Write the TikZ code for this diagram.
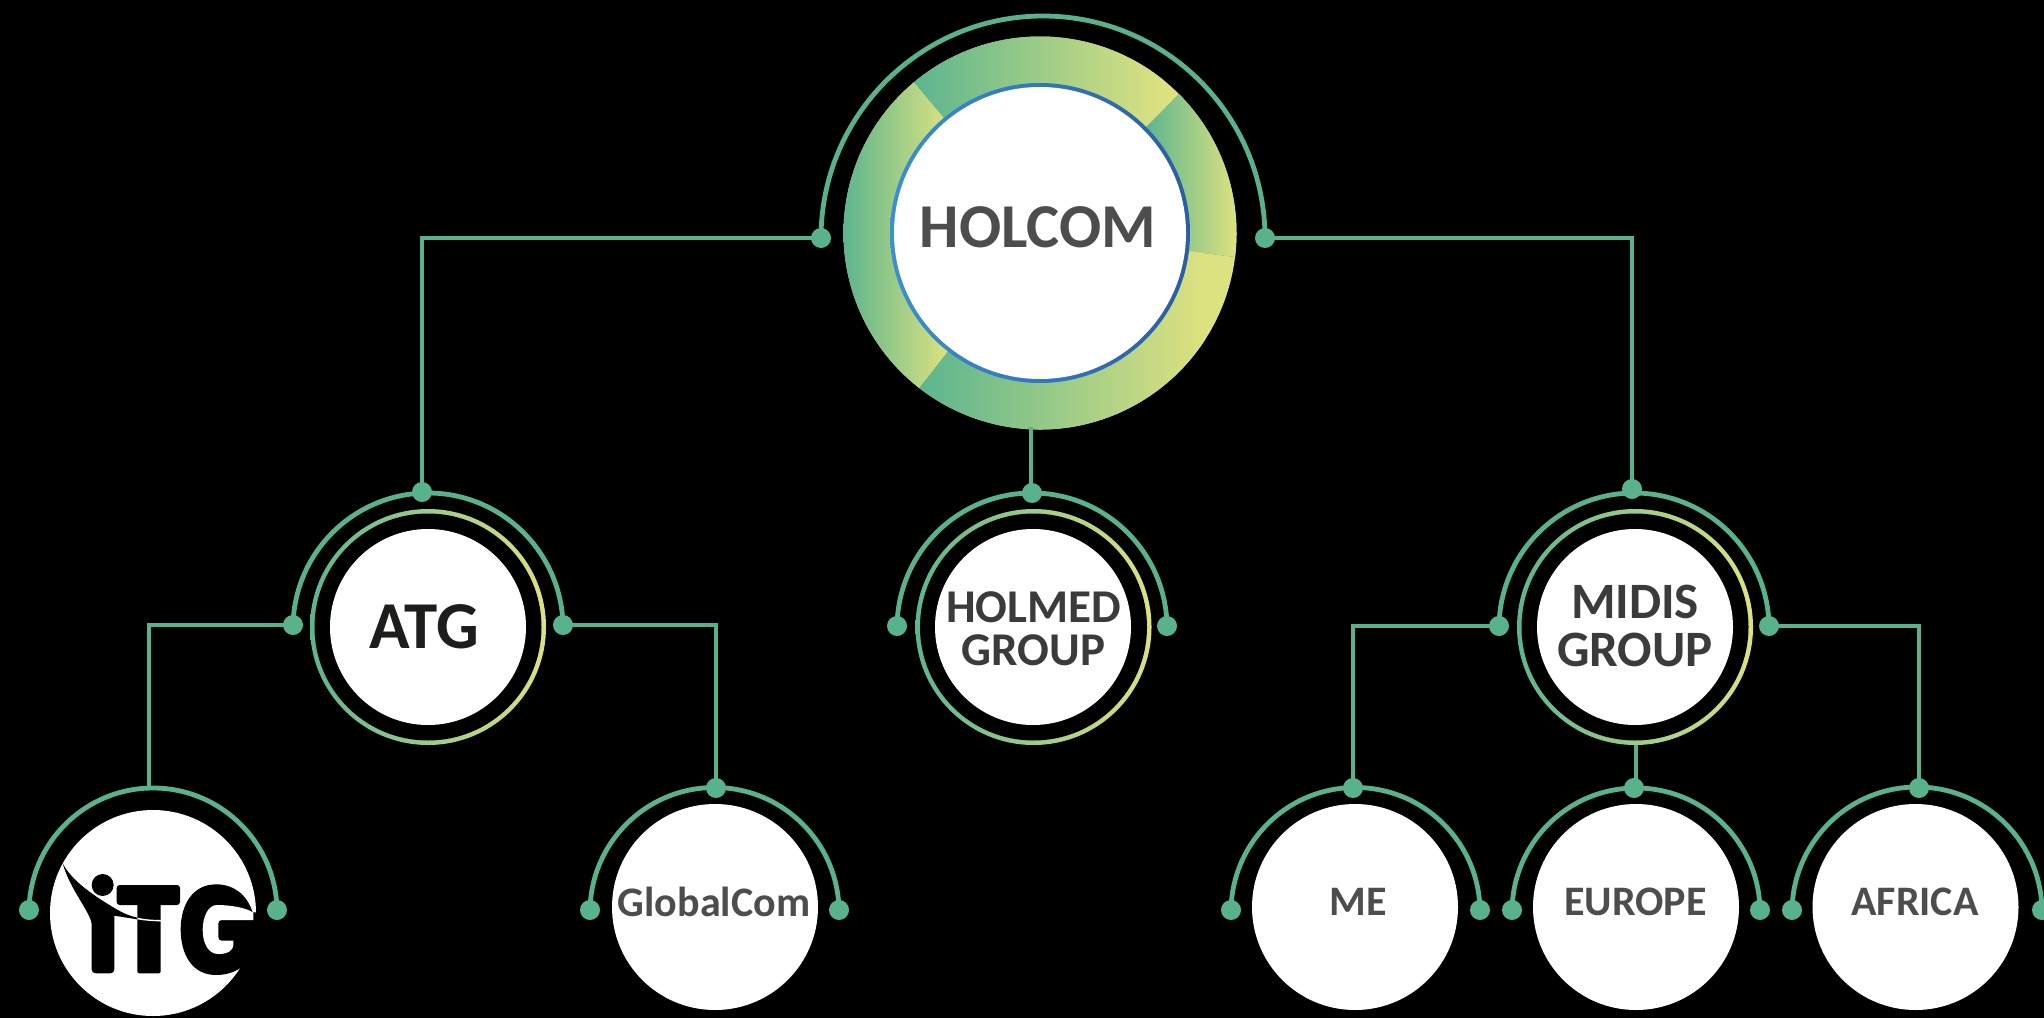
\documentclass[tikz,border=0pt]{standalone}
\usepackage{fontspec}
\setmainfont{Carlito}
\definecolor{lineg}{HTML}{58B38D}
\definecolor{gstart}{HTML}{5CB58F}
\definecolor{gend}{HTML}{DDE280}
\definecolor{txtd}{HTML}{3B3B3B}
\definecolor{txtm}{HTML}{4D4D4D}
\definecolor{txtk}{HTML}{1D1D1B}
\definecolor{blueA}{HTML}{3C8FD0}
\definecolor{blueB}{HTML}{2B5DA5}
\tikzset{
  conn/.style={draw=lineg,line width=2.2pt},
  arcline/.style={draw=lineg,line width=2.4pt},
  dotn/.style={circle,fill=lineg,inner sep=0pt,minimum size=10pt},
  discn/.style={circle,fill=white,inner sep=0pt,minimum size=#1},
  grad/.style={left color=gstart,right color=gend},
  lab/.style={font=\bfseries,align=center,inner sep=0pt},
  labh/.style={lab,text=txtm,font=\fontsize{31.2}{32}\bfseries},
  labk/.style={lab,text=txtk,font=\fontsize{33.5}{34}\bfseries},
  labg/.style={lab,text=txtd,font=\fontsize{23.5}{21.5}\bfseries},
  labm/.style={lab,text=txtd,font=\fontsize{25.5}{24}\bfseries},
  labs/.style={lab,text=txtm,font=\fontsize{21}{22}\bfseries},
}
\newcommand{\segment}[4]{% start angle, end angle, shade x1, shade x2 (relative to centre)
  \begin{scope}
    \clip (0,0) -- (#1:196.5) arc[start angle=#1,end angle=#2,radius=196.5] -- cycle;
    \fill[gend] (-200,-200) rectangle (200,200);
    \shade[grad] (#3,-200) rectangle (#4,200);
  \end{scope}}
\begin{document}
\begin{tikzpicture}[x=0.5pt,y=-0.5pt]
  \useasboundingbox (0,0) rectangle (2044,1017);
  \fill[black] (-10,-10) rectangle (2054,1027);

  % HOLCOM ring
  \begin{scope}[shift={(1040,233)}]
    \segment{-130}{-45}{-127}{125}
    \segment{-45}{7}{105}{197}
    \segment{7}{128}{-120}{165}
    \segment{128}{230}{-197}{-92}
    \shade[left color=blueA,right color=blueB] (0,0) circle[radius=150];
  \end{scope}
  \node[discn=146pt] (holcom) at (1040,233) {};
  \node[labh] (holcomt) at (1038,227) {HOLCOM};
  \coordinate (holbot) at (1031,427);

  % gradient rings of the second row
  \shade[grad] (428,627) circle[radius=118];
  \fill[black] (428,627) circle[radius=113.5];
  \shade[grad] (1033.5,627) circle[radius=118];
  \fill[black] (1033.5,627) circle[radius=113.5];
  \shade[grad] (1635,627) circle[radius=118];
  \fill[black] (1635,627) circle[radius=113.5];
  \coordinate (midbot) at (1636,745);

  % discs
  \node[discn=98pt] (atg) at (428,627) {};
  \node[discn=98pt] (holmed) at (1033,627) {};
  \node[discn=98pt] (midis) at (1635,627) {};
  \node[discn=103pt] (itg) at (153,913) {};
  \node[discn=103pt] (global) at (715,907) {};
  \node[discn=103pt] (me) at (1355,907) {};
  \node[discn=103pt] (europe) at (1636,907) {};
  \node[discn=103pt] (africa) at (1915.5,907) {};

  % ITG logo (drawn in the zoom coordinates of the logo)
  \begin{scope}[shift={(50,850)},x=0.16667pt,y=-0.16667pt]
    \fill[black] (158,105) circle[radius=33];
    \fill[black] (38,40) .. controls (62,85) and (110,125) .. (200,178)
      .. controls (220,190) and (240,198) .. (262,203) -- (262,208) -- (193,197)
      -- (193,358) .. controls (193,366) and (188,370) .. (180,370) -- (138,370)
      .. controls (130,370) and (125,366) .. (125,358) -- (125,225)
      .. controls (125,190) and (60,120) .. (38,40) -- cycle;
    \fill[black,rounded corners=1.5pt] (200,105) rectangle (390,165);
    \fill[black,rounded corners=1pt] (262,150) -- (332,150) -- (332,370) -- (262,370) -- cycle;
    \fill[white] (262,203) .. controls (285,208) and (310,210) .. (333,210) -- (333,214)
      .. controls (310,214) and (285,212) .. (262,208) -- cycle;
    \fill[black] (625,187) -- (608,187) .. controls (590,132) and (550,103) .. (498,103)
      .. controls (428,103) and (392,165) .. (392,238)
      .. controls (392,315) and (428,375) .. (498,375)
      .. controls (530,375) and (560,365) .. (578,348) -- (625,300) -- cycle;
    \fill[white] (610,188) .. controls (590,174) and (545,165) .. (500,165)
      .. controls (475,165) and (458,200) .. (458,240)
      .. controls (458,280) and (475,312) .. (505,312)
      .. controls (535,312) and (550,300) .. (550,285) -- (550,272) -- (515,272)
      .. controls (508,272) and (505,268) .. (505,262) -- (505,220)
      .. controls (505,214) and (508,210) .. (515,210) -- (610,210) -- cycle;
  \end{scope}

  % dots
  \node[dotn] (hl) at (821,238) {};
  \node[dotn] (hr) at (1265,238) {};
  \node[dotn] (atgt) at (422,492) {};
  \node[dotn] (atgl) at (293,625) {};
  \node[dotn] (atgr) at (563,625) {};
  \node[dotn] (holt) at (1032,493) {};
  \node[dotn] (holl) at (897,626) {};
  \node[dotn] (holr) at (1167,626) {};
  \node[dotn] (midt) at (1632,489) {};
  \node[dotn] (midl) at (1499,626) {};
  \node[dotn] (midr) at (1769,626) {};
  \coordinate (itgt) at (149,788);
  \node[dotn] (itgl) at (29,910) {};
  \node[dotn] (itgr) at (277,910) {};
  \node[dotn] (glot) at (716,788) {};
  \node[dotn] (glol) at (590,910) {};
  \node[dotn] (glor) at (839,910) {};
  \node[dotn] (met) at (1353,788) {};
  \node[dotn] (mel) at (1231,910) {};
  \node[dotn] (mer) at (1480,910) {};
  \node[dotn] (eurt) at (1634,788) {};
  \node[dotn] (eurl) at (1512,910) {};
  \node[dotn] (eurr) at (1760,910) {};
  \node[dotn] (afrt) at (1919,788) {};
  \node[dotn] (afrl) at (1792,910) {};
  \node[dotn] (afrr) at (2042,910) {};

  % half-circle arcs
  \draw[arcline] (hl.center) arc[start angle=180,end angle=360,radius=222];
  \draw[arcline] ([yshift=-1.5pt]atgl.center) arc[start angle=180,end angle=360,radius=135];
  \draw[arcline] ([yshift=-1pt]holl.center) arc[start angle=180,end angle=360,radius=135];
  \draw[arcline] ([yshift=-1pt]midl.center) arc[start angle=180,end angle=360,radius=135];
  \draw[arcline] ([yshift=-1pt]itgl.center) arc[start angle=180,end angle=360,radius=124];
  \draw[arcline] ([yshift=-1pt]glol.center) arc[start angle=180,end angle=360,radius=124.5];
  \draw[arcline] ([yshift=-1pt]mel.center) arc[start angle=180,end angle=360,radius=124.5];
  \draw[arcline] ([yshift=-1pt]eurl.center) arc[start angle=180,end angle=360,radius=124];
  \draw[arcline] ([yshift=-1pt]afrl.center) arc[start angle=180,end angle=360,radius=125];

  % connectors
  \draw[conn] (hl.center) -| (atgt.center);
  \draw[conn] (hr.center) -| (midt.center);
  \draw[conn] (holbot) -- (holbot |- holt.center);
  \draw[conn] (atgl.center) -| (itgt);
  \draw[conn] (atgr.center) -| (glot.center);
  \draw[conn] (midl.center) -| (met.center);
  \draw[conn] (midr.center) -| (afrt.center);
  \draw[conn] (midbot) -- (midbot |- eurt.center);

  % labels
  \node[labk] (atgtx) at (424,626.5) {ATG};
  \node[labg] (holmedtx) at (1033.5,628.5) {HOLMED\\GROUP};
  \node[labm] (midistx) at (1635,625.5) {MIDIS\\GROUP};
  \node[labs] (globaltx) at (714,902) {GlobalCom};
  \node[labs] (metx) at (1358,902) {ME};
  \node[labs] (eurtx) at (1635.5,902) {EUROPE};
  \node[labs] (afrtx) at (1915,902) {AFRICA};
\end{tikzpicture}
\end{document}
